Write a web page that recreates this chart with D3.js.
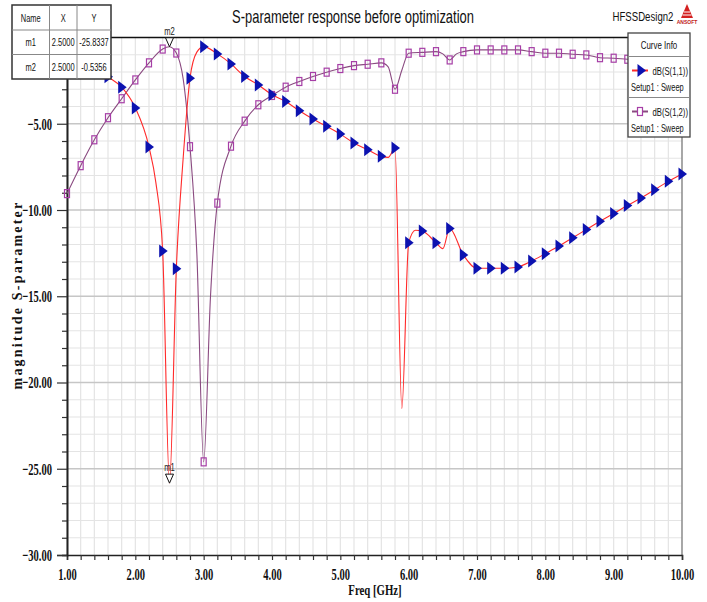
<!DOCTYPE html>
<html><head><meta charset="utf-8">
<script src="https://cdn.jsdelivr.net/npm/d3@7"></script>
<style>body{margin:0;background:#fff}svg{display:block}</style>
</head><body>
<svg id="c" width="707" height="602"></svg>
<script>
// ---- data ----
const s11Freq = [1.0,1.2,1.4,1.6,1.8,2.0,2.2,2.3,2.4,2.5,2.6,2.7,2.8,2.9,3.0,3.2,3.4,3.6,3.8,4.0,4.2,4.4,4.6,4.8,5.0,5.2,5.4,5.6,5.7,5.8,5.9,6.0,6.1,6.2,6.4,6.5,6.6,6.8,7.0,7.2,7.4,7.6,7.8,8.0,8.2,8.4,8.6,8.8,9.0,9.2,9.4,9.6,9.8,10.0];
const s11Db   = [-1.0,-1.3,-1.75,-2.28,-2.88,-4.08,-6.35,-8.4,-12.38,-25.83,-13.4,-7.0,-2.36,-0.85,-0.53,-0.95,-1.53,-2.26,-2.75,-3.32,-3.71,-4.25,-4.73,-5.15,-5.6,-6.12,-6.5,-6.89,-6.95,-6.41,-21.5,-11.9,-11.17,-11.22,-11.9,-12.24,-11.07,-12.61,-13.38,-13.38,-13.38,-13.3,-12.96,-12.53,-12.09,-11.61,-11.13,-10.65,-10.2,-9.74,-9.3,-8.82,-8.34,-7.91];
const s12Freq = [1.0,1.2,1.4,1.6,1.8,2.0,2.2,2.4,2.5,2.6,2.7,2.8,2.9,3.0,3.1,3.2,3.4,3.6,3.8,4.0,4.2,4.4,4.6,4.8,5.0,5.2,5.4,5.6,5.7,5.8,5.9,6.0,6.2,6.4,6.5,6.6,6.7,6.8,7.0,7.2,7.4,7.6,7.8,8.0,8.2,8.4,8.6,8.8,9.0,9.2,9.4,9.6,9.8,10.0];
const s12Db   = [-9.05,-7.43,-5.93,-4.65,-3.55,-2.46,-1.47,-0.67,-0.5356,-0.9,-2.4,-6.33,-12.5,-24.6,-15.0,-9.6,-6.3,-4.85,-3.9,-3.36,-2.88,-2.55,-2.26,-2.01,-1.8,-1.63,-1.55,-1.47,-1.7,-3.0,-1.9,-0.91,-0.86,-0.82,-0.95,-1.3,-0.95,-0.82,-0.72,-0.72,-0.72,-0.72,-0.82,-0.91,-0.91,-0.97,-1.01,-1.17,-1.2,-1.26,-1.3,-1.35,-1.4,-1.45];
const markerNames = ["m1","m2"];
const markerFreq  = [2.5, 2.5];
const markerDb    = [-25.8337, -0.5356];
const tableHeader = ["Name","X","Y"];
const seriesNames = ["dB(S(1,1))","dB(S(1,2))"];
const setupNames  = ["Setup1 : Sweep","Setup1 : Sweep"];
const xMajorTicks = [1,2,3,4,5,6,7,8,9,10];
const yMajorTicks = [0,-5,-10,-15,-20,-25,-30];
const yLabelTicks = [-5,-10,-15,-20,-25,-30]; // 0.00 label is hidden behind the marker table

// ---- layout ----
const svg = d3.select("#c");
const X0=67, X1=682, YT=37.5, YB=555;
const x = d3.scaleLinear().domain([1,10]).range([X0,X1]);
const y = d3.scaleLinear().domain([-30,0]).range([YB,YT]);
const fmt = d3.format(".2f");
const serif = "'Liberation Serif','Times New Roman',serif";
const sans = "'Liberation Sans',Arial,sans-serif";

// horizontally condense text via a scale transform (keeps true bounding boxes)
function squeeze(sel, f){
  sel.each(function(){
    const s=d3.select(this);
    const tx=+(s.attr("x")||0), ty=+(s.attr("y")||0);
    s.attr("x",0).attr("y",0).attr("transform",`translate(${tx},${ty}) scale(${f},1)`);
  });
}

// grid
const xMinor = d3.range(10,101,2).map(v=>v/10);
const yMinor = d3.range(-30,1,1);
const g = svg.append("g");
g.selectAll(".vx").data(xMinor).join("line")
  .attr("x1",d=>x(d)).attr("x2",d=>x(d)).attr("y1",YT).attr("y2",YB)
  .attr("stroke","#e4e4e4").attr("stroke-width",1.2);
g.selectAll(".hy").data(yMinor.filter(v=>v%5!==0)).join("line")
  .attr("x1",X0).attr("x2",X1).attr("y1",d=>y(d)).attr("y2",d=>y(d))
  .attr("stroke","#e4e4e4").attr("stroke-width",1.2);
g.selectAll(".hY").data(yMajorTicks.filter(v=>v>-30&&v<0)).join("line")
  .attr("x1",X0).attr("x2",X1).attr("y1",d=>y(d)).attr("y2",d=>y(d))
  .attr("stroke","#c6c6c6").attr("stroke-width",1.3);

// frame
svg.append("line").attr("x1",X0).attr("x2",X1).attr("y1",YT).attr("y2",YT).attr("stroke","#111").attr("stroke-width",1.6);
svg.append("line").attr("x1",X1).attr("x2",X1).attr("y1",YT).attr("y2",YB).attr("stroke","#777").attr("stroke-width",1.2);

// axes
const axB = svg.append("g").attr("transform",`translate(0,${YB})`)
  .call(d3.axisBottom(x).tickValues(xMinor).tickSize(5).tickPadding(8)
    .tickFormat(d=> xMajorTicks.some(v=>Math.abs(v-d)<1e-6) ? fmt(d) : ""));
const axLm = svg.append("g").attr("transform",`translate(${X0},0)`)
  .call(d3.axisLeft(y).tickValues(yMinor.filter(v=>v%5!==0)).tickSize(5).tickFormat(""));
const axL = svg.append("g").attr("transform",`translate(${X0},0)`)
  .call(d3.axisLeft(y).tickValues(yMajorTicks).tickSize(10).tickPadding(5)
    .tickFormat(d=> yLabelTicks.includes(d) ? fmt(d) : ""));
[axB,axLm,axL].forEach(a=>{
  a.select(".domain").attr("stroke","#222").attr("stroke-width",1.6);
  a.selectAll(".tick line").attr("stroke","#333").attr("stroke-width",1.2);
  a.selectAll("text").attr("font-family",serif).attr("font-weight","bold").attr("font-size",17).attr("fill","#111");
});
squeeze(axB.selectAll("text"),0.62);
squeeze(axL.selectAll("text"),0.62);

// axis titles
svg.append("text").attr("transform","translate(22,295) rotate(-90)")
  .attr("text-anchor","middle").attr("font-family",serif).attr("font-weight","bold").attr("font-size",14)
  .attr("fill","#111").attr("letter-spacing",2.2).text("magnitude S-parameter");
squeeze(svg.append("text").attr("x",375).attr("y",595).attr("text-anchor","middle")
  .attr("font-family",serif).attr("font-weight","bold").attr("font-size",15).attr("fill","#111").text("Freq [GHz]"),0.72);

// title
squeeze(svg.append("text").attr("x",353).attr("y",23).attr("text-anchor","middle").attr("font-family",sans)
  .attr("font-size",18).attr("fill","#111").text("S-parameter response before optimization"),0.72);
squeeze(svg.append("text").attr("x",643).attr("y",21).attr("text-anchor","middle").attr("font-family",sans)
  .attr("font-size",13).attr("fill","#111").text("HFSSDesign2"),0.74);
// logo
const logo = svg.append("g").attr("transform","translate(687,4)");
logo.append("path").attr("d","M0,0 L6,14 L-6,14 Z").attr("fill","#d42020");
logo.append("path").attr("d","M-3,8 L3,8 M-4.5,11 L4.5,11").attr("stroke","#fff").attr("stroke-width",1);
logo.append("text").attr("x",0).attr("y",20).attr("text-anchor","middle").attr("font-family",sans)
  .attr("font-size",5).attr("fill","#c02020").attr("font-weight","bold").text("ANSOFT");

// curves
const s11 = s11Freq.map((f,i)=>[f,s11Db[i]]);
const s12 = s12Freq.map((f,i)=>[f,s12Db[i]]);
const line = d3.line().x(d=>x(d[0])).y(d=>y(d[1])).curve(d3.curveMonotoneX);
const isMark = d=>Math.abs(d[0]*5-Math.round(d[0]*5))<1e-6;
const plot = svg.append("g");
plot.append("path").datum(s12).attr("d",line).attr("fill","none").attr("stroke","#8a4a80").attr("stroke-width",1.1);
plot.append("path").datum(s11).attr("d",line).attr("fill","none").attr("stroke","#ff2a2a").attr("stroke-width",1.1);
const tri = "M-3.5,-6.5 L5,0 L-3.5,6.5 Z";
plot.selectAll(".sq").data(s12.filter(isMark)).join("rect")
  .attr("x",d=>x(d[0])-2.5).attr("y",d=>y(d[1])-4).attr("width",5).attr("height",8)
  .attr("fill","none").attr("stroke","#a63ea6").attr("stroke-width",1.2);
plot.selectAll(".tr").data(s11.filter(isMark)).join("path")
  .attr("transform",d=>`translate(${x(d[0])},${y(d[1])})`).attr("d",tri).attr("fill","#0c12b0");

// markers m1/m2
markerNames.forEach((n,i)=>{
  const px=x(markerFreq[i]), py=y(markerDb[i]);
  svg.append("path").attr("d",`M${px},${py} L${px-4},${py-9} L${px+4},${py-9} Z`)
    .attr("fill","#fff").attr("stroke","#111").attr("stroke-width",1);
  squeeze(svg.append("text").attr("x",px).attr("y",py-12).attr("text-anchor","middle").attr("font-family",sans)
    .attr("font-size",11).attr("fill","#222").text(n),0.7);
});

// marker table
const tb = svg.append("g");
const colX=[12,49.5,77,111], rowY=[5,30,54.5,79];
tb.append("rect").attr("x",colX[0]).attr("y",rowY[0]).attr("width",colX[3]-colX[0]).attr("height",rowY[3]-rowY[0])
  .attr("fill","#fff").attr("stroke","#333").attr("stroke-width",1.5);
[colX[1],colX[2]].forEach(cx=>tb.append("line").attr("x1",cx).attr("x2",cx).attr("y1",rowY[0]).attr("y2",rowY[3]).attr("stroke","#888"));
[rowY[1],rowY[2]].forEach(ry=>tb.append("line").attr("x1",colX[0]).attr("x2",colX[3]).attr("y1",ry).attr("y2",ry).attr("stroke","#888"));
const rows=[tableHeader].concat(markerNames.map((n,i)=>[n,markerFreq[i].toFixed(4),markerDb[i].toFixed(4)]));
rows.forEach((r,ri)=>r.forEach((c,ci)=>{
  squeeze(tb.append("text").attr("x",(colX[ci]+colX[ci+1])/2).attr("y",(rowY[ri]+rowY[ri+1])/2+4)
    .attr("text-anchor","middle").attr("font-family",sans).attr("font-size",11).attr("fill","#111").text(c),0.68);
}));

// legend
const lg = svg.append("g");
const LX0=628, LX1=690, LY=[33,56.5,97.5,137];
lg.append("rect").attr("x",LX0).attr("y",LY[0]).attr("width",LX1-LX0).attr("height",LY[3]-LY[0])
  .attr("fill","#fff").attr("stroke","#444").attr("stroke-width",1.3);
[LY[1],LY[2]].forEach(ry=>lg.append("line").attr("x1",LX0).attr("x2",LX1).attr("y1",ry).attr("y2",ry).attr("stroke","#888"));
squeeze(lg.append("text").attr("x",(LX0+LX1)/2).attr("y",49).attr("text-anchor","middle").attr("font-family",sans)
  .attr("font-size",11).attr("fill","#111").text("Curve Info"),0.72);
const symCol=["#ff2a2a","#8a4a80"];
seriesNames.forEach((s,i)=>{
  const top=LY[1+i];
  lg.append("line").attr("x1",632).attr("x2",648).attr("y1",top+14).attr("y2",top+14).attr("stroke",symCol[i]).attr("stroke-width",2);
  if(i===0) lg.append("path").attr("transform",`translate(641,${top+14})`).attr("d",tri).attr("fill","#0c12b0");
  else lg.append("rect").attr("x",637.5).attr("y",top+10).attr("width",5).attr("height",8).attr("fill","#fff").attr("stroke","#a63ea6").attr("stroke-width",1.2);
  squeeze(lg.append("text").attr("x",688).attr("y",top+18).attr("text-anchor","end").attr("font-family",sans)
    .attr("font-size",11).attr("fill","#111").text(s),0.7);
  squeeze(lg.append("text").attr("x",631).attr("y",top+34).attr("font-family",sans)
    .attr("font-size",11).attr("fill","#111").text(setupNames[i]),0.68);
});
</script>
</body></html>
